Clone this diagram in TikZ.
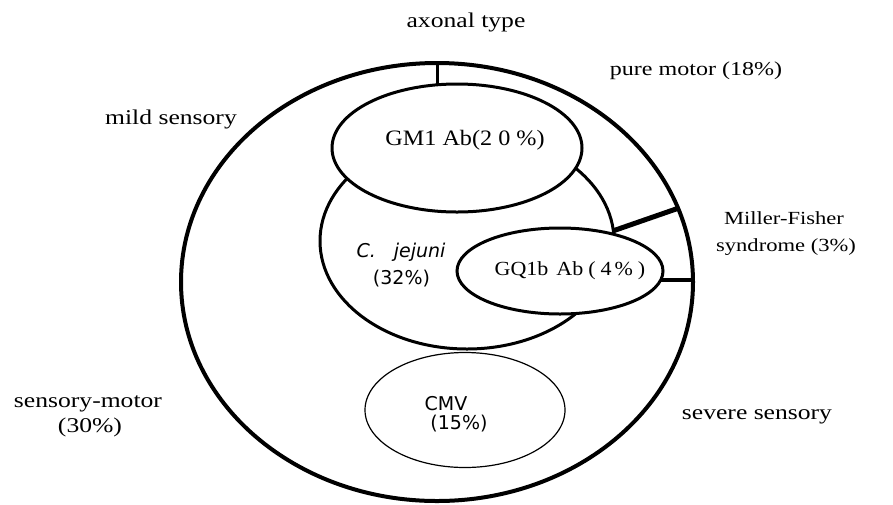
\documentclass[tikz,border=0pt]{standalone}
\usepackage{fontspec}
\setmainfont{Liberation Serif}
\newfontfamily\labfont[FakeStretch=1.22]{Liberation Serif}
\newfontfamily\abfont[FakeStretch=1.1]{Liberation Serif}
\newfontfamily\gothfont{DejaVu Sans}
\usetikzlibrary{shapes.geometric}
\begin{document}
\begin{tikzpicture}[x=1pt,y=-1pt,
  ring/.style={ellipse, draw, inner sep=0pt, outer sep=0pt},
  lab/.style={inner sep=0pt, anchor=base, font=\labfont\fontsize{21}{24}\selectfont},
  smalllab/.style={inner sep=0pt, anchor=base, font=\labfont\fontsize{18.5}{22}\selectfont},
  ablab/.style={inner sep=0pt, anchor=base},
  goth/.style={inner sep=0pt, anchor=base, font=\gothfont\fontsize{19}{22}\selectfont},
  spoke/.style={line width=#1, line cap=butt}
]
\useasboundingbox (0,0) rectangle (893,504);

% ellipses
\node[ring, line width=4pt, minimum width=512pt, minimum height=438pt] (outer) at (437,282) {};
\node[ring, line width=3pt, minimum width=294pt, minimum height=216pt] (cj) at (467,241) {};
\node[ring, line width=3pt, fill=white, minimum width=250pt, minimum height=128pt] (gm1) at (457,148) {};
\node[ring, line width=3pt, fill=white, minimum width=206pt, minimum height=86pt] (gq) at (560,271) {};
\node[ring, line width=1.2pt, minimum width=200pt, minimum height=115pt] (cmv) at (465,410) {};

% dividers
\draw[spoke=3pt] (outer.north) -- (outer.north |- gm1.north);
\draw[spoke=5pt] (cj.4) -- (outer.17);
\draw[spoke=3.5pt] (gq.-5) -- (gq.-5 -| outer.east);

% inner labels
\node[ablab, font=\abfont\fontsize{22}{24}\selectfont] (gmt) at (465,145)
  {GM1 Ab(2\hspace{6pt}0\hspace{6pt}\%)};
\node[ablab, font=\abfont\fontsize{20}{22}\selectfont] (gqt) at (570,275)
  {GQ1b\hspace{8pt}Ab\hspace{5pt}(\hspace{5pt}4\hspace{3pt}\%\hspace{5pt})};
\node[goth] (cjt) at (401,257) {\itshape C.\hspace{18pt}jejuni};
\node[goth] (cjp) at (401.5,284) {(32\%)};
\node[goth] (cmvt) at (446,410) {CMV};
\node[goth] (cmvp) at (459,429) {(15\%)};

% outer labels
\node[lab] (axo) at (466,27) {axonal type};
\node[lab, font=\labfont\fontsize{19.7}{22}\selectfont] (pm) at (696,75) {pure motor (18\%)};
\node[lab] (ms) at (171,124) {mild sensory};
\node[smalllab] (mf1) at (784,224) {Miller-Fisher};
\node[smalllab] (mf2) at (786,251) {syndrome (3\%)};
\node[lab] (sm1) at (88,407) {sensory-motor};
\node[lab] (sm2) at (90,432) {(30\%)};
\node[lab] (ss) at (757,419) {severe sensory};
\end{tikzpicture}
\end{document}
